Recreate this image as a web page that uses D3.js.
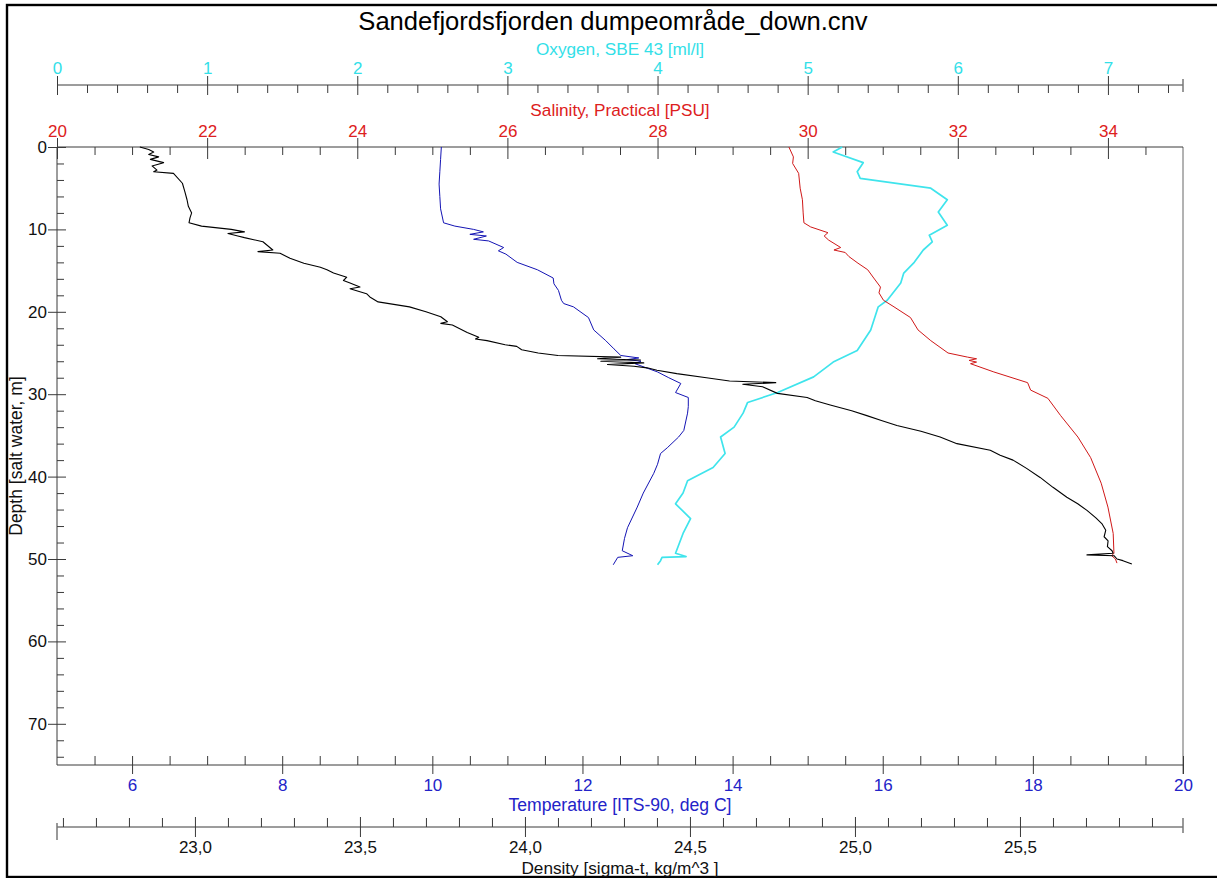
<!DOCTYPE html>
<html>
<head>
<meta charset="utf-8">
<script src="https://cdnjs.cloudflare.com/ajax/libs/d3/7.8.5/d3.min.js"></script>
<style>
body { margin: 0; background: #fff; }
text { font-family: "Liberation Sans", Arial, sans-serif; }
</style>
</head>
<body>
<svg class="chart" width="1217" height="878"></svg>
<script>
// profile values: [depth m, value]
var temperature = [[0,10.12],[1.5,10.11],[3,10.1],[4.5,10.09],[6,10.1],[7.5,10.11],[9.2,10.15],[9.6,10.3],[10.0,10.55],[10.3,10.68],[10.6,10.5],[10.8,10.72],[11.2,10.55],[11.4,10.75],[12.2,10.95],[12.6,10.88],[13.0,10.98],[14.0,11.13],[14.9,11.4],[15.9,11.61],[16.6,11.62],[17.4,11.68],[18.6,11.72],[19.0,11.75],[19.4,11.88],[20.7,12.08],[22.2,12.15],[23.5,12.31],[24.5,12.42],[25.3,12.51],[25.6,12.75],[25.8,12.6],[26.0,12.78],[26.3,12.7],[27.3,13.0],[28.0,13.15],[28.7,13.31],[29.8,13.24],[30.4,13.41],[31.5,13.41],[32.3,13.4],[34.4,13.35],[35.2,13.28],[36.5,13.13],[37.2,13.04],[38.5,13.0],[39.6,12.95],[42.0,12.81],[43.7,12.73],[46.2,12.6],[47.5,12.56],[49.0,12.53],[49.6,12.67],[49.8,12.47],[50.7,12.41]];

var salinity = [[0,29.75],[1.2,29.81],[2,29.8],[3.2,29.88],[5,29.9],[6.4,29.93],[8,29.94],[9.2,29.95],[9.7,30.04],[10.4,30.27],[10.8,30.22],[11.3,30.28],[12.2,30.44],[12.5,30.35],[12.8,30.5],[13.3,30.55],[14.1,30.67],[14.9,30.8],[15.9,30.88],[17.0,30.97],[17.7,30.95],[18.6,31.01],[19.4,31.15],[20.7,31.37],[22.2,31.47],[23.5,31.64],[25.0,31.87],[25.5,32.13],[25.7,32.25],[25.9,32.15],[26.1,32.25],[26.3,32.17],[27.3,32.48],[28.6,32.93],[29.5,32.97],[30.5,33.2],[32.6,33.37],[35.2,33.6],[37.7,33.77],[40.8,33.91],[43.7,34.0],[46.9,34.07],[49.3,34.08],[49.6,34.05],[50.0,34.1],[50.5,34.12]];

var oxygen = [[0,5.23],[0.6,5.17],[1.9,5.37],[3.0,5.33],[3.8,5.35],[5.0,5.82],[6.4,5.93],[7.9,5.87],[9.5,5.93],[10.7,5.81],[11.5,5.83],[12.5,5.77],[14.0,5.71],[15.3,5.64],[16.5,5.62],[18.6,5.53],[19.4,5.47],[22.2,5.42],[24.7,5.33],[26.1,5.17],[27.9,5.04],[29.8,4.8],[31.0,4.6],[32.3,4.57],[34.0,4.51],[35.2,4.42],[37.2,4.45],[38.9,4.37],[40.5,4.2],[42.0,4.17],[43.3,4.12],[45.1,4.22],[46.9,4.17],[49.3,4.12],[49.7,4.19],[49.8,4.03],[50.2,4.02],[50.7,4.0]];

var density = [[0.0,22.833],[0.3,22.86],[0.6,22.875],[0.9,22.86],[1.2,22.89],[1.5,22.865],[1.9,22.905],[2.3,22.87],[2.8,22.885],[3.0,22.875],[3.2,22.935],[4.4,22.962],[5.5,22.97],[6.4,22.976],[7.2,22.98],[8.0,22.99],[8.6,22.985],[9.2,22.982],[9.6,23.02],[10.0,23.11],[10.3,23.15],[10.5,23.1],[10.8,23.13],[11.0,23.15],[11.5,23.206],[12.5,23.236],[12.7,23.191],[12.9,23.258],[13.5,23.288],[14.1,23.33],[14.6,23.38],[14.9,23.40],[15.3,23.42],[15.8,23.46],[16.2,23.45],[16.5,23.47],[17.0,23.50],[17.2,23.47],[17.8,23.52],[18.2,23.53],[18.8,23.555],[19.4,23.65],[20.0,23.70],[20.6,23.745],[21.2,23.765],[21.4,23.745],[21.6,23.78],[22.5,23.825],[23.1,23.86],[23.3,23.85],[23.5,23.885],[24.0,23.94],[24.2,23.975],[24.6,23.99],[25.0,24.04],[25.3,24.1],[25.5,24.29],[25.7,24.22],[25.85,24.35],[26.0,24.23],[26.2,24.36],[26.4,24.25],[26.6,24.33],[26.8,24.37],[27.1,24.40],[27.5,24.46],[28.0,24.55],[28.4,24.62],[28.6,24.76],[28.8,24.66],[29.1,24.72],[29.9,24.765],[30.4,24.855],[30.8,24.88],[31.3,24.925],[32.0,24.99],[32.6,25.036],[33.2,25.08],[33.8,25.127],[34.5,25.2],[35.2,25.258],[36.0,25.309],[36.8,25.41],[37.4,25.44],[38.0,25.479],[39.0,25.52],[40.1,25.561],[41.3,25.60],[42.5,25.642],[43.3,25.675],[44.1,25.703],[45.0,25.73],[45.7,25.748],[46.5,25.76],[47.3,25.755],[47.8,25.767],[48.5,25.765],[49.0,25.779],[49.3,25.782],[49.5,25.703],[49.6,25.785],[50.0,25.794],[50.2,25.812],[50.6,25.839]];

// tick labels
var depthTicks = [0, 10, 20, 30, 40, 50, 60, 70];
var oxygenTicks = [0, 1, 2, 3, 4, 5, 6, 7];
var salinityTicks = [20, 22, 24, 26, 28, 30, 32, 34];
var temperatureTicks = [6, 8, 10, 12, 14, 16, 18, 20];
var densityTicks = [23.0, 23.5, 24.0, 24.5, 25.0, 25.5];

var svg = d3.select(".chart");
var plotLeft = 57, plotRight = 1183, plotTop = 147, plotBottom = 765;
var oxyAxisY = 85, densAxisY = 827;
var tickColor = "#3a3a3a";
var fontFam = '"Liberation Sans", Arial, sans-serif';

var depth = d3.scaleLinear().domain([0, 75]).range([plotTop, plotBottom]);
var temp = d3.scaleLinear().domain([5, 20]).range([plotLeft, plotRight]);
var sal = d3.scaleLinear().domain([20, 35]).range([plotLeft, plotRight]);
var oxy = d3.scaleLinear().domain([0, 7.5]).range([plotLeft, plotRight]);
var dens = d3.scaleLinear().domain([22.582, 25.994]).range([plotLeft, plotRight]);

function minorsOf(start, stop, step, majors) {
    return d3.range(start, stop, step).filter(function(v) {
        return !majors.some(function(m) { return Math.abs(m - v) < 1e-6; });
    });
}

// one axis = minors on the inner side, majors crossing the line, labels outside
function addAxis(transform, outerAxis, innerAxis, scale, majors, minors, fmt, pad, color, vertical, sizes) {
    var g = svg.append("g").attr("transform", transform);
    g.append("g").call(innerAxis(scale).tickValues(minors).tickSize(sizes[2]).tickFormat(""));
    g.append("g").call(innerAxis(scale).tickValues(majors).tickSize(sizes[1]).tickFormat(""));
    var lab = g.append("g")
        .call(outerAxis(scale).tickValues(majors).tickSize(sizes[0]).tickPadding(pad).tickFormat(fmt));
    g.selectAll(".domain").remove();
    g.selectAll("line").attr("stroke", tickColor);
    lab.selectAll("text")
        .attr("fill", color)
        .attr("font-size", 17)
        .attr("font-family", fontFam);
    var r = scale.range();
    g.append("line")
        .attr("x1", vertical ? 0 : r[0]).attr("x2", vertical ? 0 : r[1])
        .attr("y1", vertical ? r[0] : 0).attr("y2", vertical ? r[1] : 0)
        .attr("stroke", tickColor);
    return g;
}

// outer border
svg.append("rect")
    .attr("x", 7).attr("y", 5)
    .attr("width", 1225).attr("height", 872)
    .attr("fill", "none")
    .attr("stroke", "#000")
    .attr("stroke-width", 2.4);

// right frame of the plot
svg.append("line")
    .attr("x1", plotRight).attr("x2", plotRight)
    .attr("y1", plotTop).attr("y2", plotBottom + 9)
    .attr("stroke", "#666");

// oxygen axis (top)
addAxis("translate(0," + oxyAxisY + ")", d3.axisTop, d3.axisBottom, oxy,
    oxygenTicks, minorsOf(0.2, 7.5, 0.2, oxygenTicks), d3.format("d"), 2, "#33e0e8", false, [9, 10, 8]);
svg.append("line")
    .attr("x1", oxy(7.5)).attr("x2", oxy(7.5))
    .attr("y1", oxyAxisY - 6).attr("y2", oxyAxisY + 7)
    .attr("stroke", "#777").attr("stroke-width", 1.5);

// salinity axis (top of plot)
addAxis("translate(0," + plotTop + ")", d3.axisTop, d3.axisBottom, sal,
    salinityTicks, minorsOf(20.5, 35, 0.5, salinityTicks), d3.format("d"), 1, "#dd2020", false, [9, 12, 8]);

// depth axis (left)
addAxis("translate(" + plotLeft + ",0)", d3.axisLeft, d3.axisRight, depth,
    depthTicks, minorsOf(2, 75, 2, depthTicks), d3.format("d"), 1, "#111", true, [9, 9, 7]);

// temperature axis (bottom of plot)
addAxis("translate(0," + plotBottom + ")", d3.axisBottom, d3.axisTop, temp,
    temperatureTicks, minorsOf(5.5, 20, 0.5, temperatureTicks), d3.format("d"), 5, "#2323c8", false, [9, 9, 9]);

// density axis
addAxis("translate(0," + densAxisY + ")", d3.axisBottom, d3.axisTop, dens,
    densityTicks, minorsOf(22.6, 25.99, 0.1, densityTicks),
    function(d) { return d3.format(".1f")(d).replace(".", ","); }, 4, "#111", false, [10, 10, 9]);
svg.append("line")
    .attr("x1", dens.range()[0]).attr("x2", dens.range()[0])
    .attr("y1", densAxisY - 4).attr("y2", densAxisY + 13)
    .attr("stroke", "#777").attr("stroke-width", 1.5);
svg.append("line")
    .attr("x1", dens.range()[1]).attr("x2", dens.range()[1])
    .attr("y1", densAxisY - 9).attr("y2", densAxisY + 6)
    .attr("stroke", "#777").attr("stroke-width", 1.5);

// titles
function addText(x, y, str, size, color, rotate) {
    var t = svg.append("text")
        .attr("text-anchor", "middle")
        .attr("font-size", size)
        .attr("font-family", fontFam)
        .attr("fill", color)
        .text(str);
    if (rotate) t.attr("transform", "translate(" + x + "," + y + ") rotate(-90)");
    else t.attr("x", x).attr("y", y);
}
addText(613, 30, "Sandefjordsfjorden dumpeområde_down.cnv", 25.6, "#000");
addText(620, 55, "Oxygen, SBE 43 [ml/l]", 17.2, "#33e0e8");
addText(620, 116, "Salinity, Practical [PSU]", 17.2, "#dd2020");
addText(620, 811, "Temperature [ITS-90, deg C]", 17.6, "#2323c8");
addText(620, 874, "Density [sigma-t, kg/m^3 ]", 17.2, "#111");
addText(22, 456, "Depth [salt water, m]", 17.5, "#111", true);

// profiles
var curves = svg.append("g").attr("class", "profiles");

function drawProfile(data, scale, color, width) {
    var line = d3.line()
        .x(function(d) { return scale(d[1]); })
        .y(function(d) { return depth(d[0]); });
    curves.append("path")
        .datum(data)
        .attr("d", line)
        .attr("fill", "none")
        .attr("stroke", color)
        .attr("stroke-width", width)
        .attr("stroke-linejoin", "round");
}

drawProfile(oxygen, oxy, "#3fe4ec", 1.7);
drawProfile(salinity, sal, "#d01818", 1);
drawProfile(temperature, temp, "#1414b4", 1);
drawProfile(density, dens, "#000", 1.1);
</script>
</body>
</html>
